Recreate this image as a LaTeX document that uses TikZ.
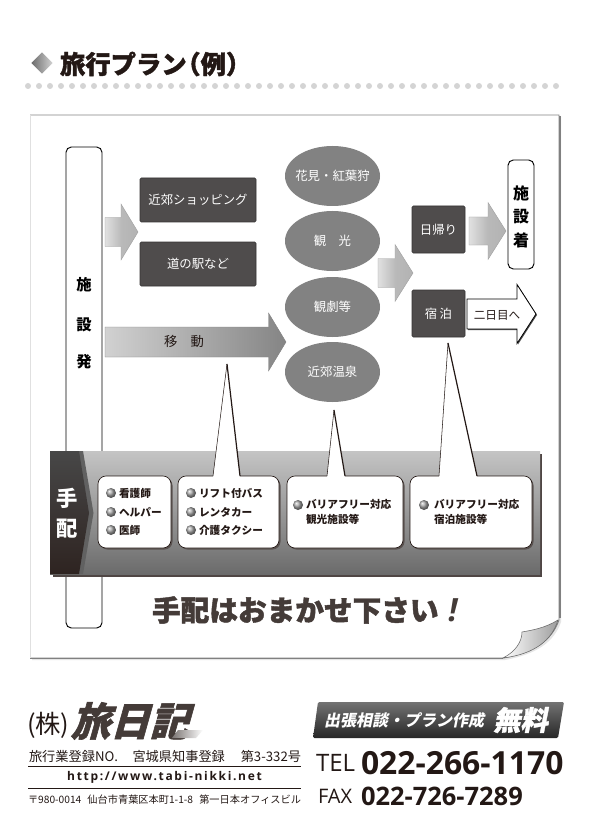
\documentclass[tikz,border=0pt]{standalone}
\usepackage{fontspec}
\usetikzlibrary{shapes.geometric}
\setmainfont{Noto Sans CJK JP}
\newfontfamily\jp{Noto Sans CJK JP}
\newfontfamily\jpx{Noto Sans CJK JP}[BoldFeatures={FakeBold=1.5}]
\newfontfamily\lat{Open Sans}
\newfontfamily\urlf{Open Sans}[LetterSpace=14]
\newcommand{\fs}[1]{\fontsize{#1}{#1}\selectfont}
\definecolor{ink}{HTML}{231815}
\definecolor{boxdark}{HTML}{4F4C4C}
\definecolor{ovalgray}{HTML}{828282}
\tikzset{
  txt/.style={inner sep=0pt,outer sep=0pt,text=ink,font=\jp\bfseries\fs{8}},
  whitetxt/.style={inner sep=0pt,text=white,font=\jp\fs{9.3}},
  darkbox/.style={fill=boxdark,rounded corners=1pt,draw=boxdark!70!black,line width=.4pt},
  oval/.style={ellipse,fill=ovalgray,inner xsep=-12pt,inner ysep=-6pt,minimum width=71.25pt,minimum height=45pt,text=white,font=\jp\fs{9.3}},
  pill/.style={draw=black,fill=white,line width=.7pt,rounded corners=4pt},
  card/.style={draw=ink,fill=white,line width=.5pt,rounded corners=6pt},
  cardshadow/.style={fill=ink!75,rounded corners=6pt},
  garrow/.style={left color=#1,right color=gray!60,middle color=gray!55,draw=gray!75,line width=.3pt},
  bul/.style={circle,inner sep=0pt,minimum size=7.5pt,ball color=gray!70,draw=none},
  vtxt/.style={inner sep=0pt,text=black,font=\jp\bfseries},
  tailthin/.style={draw=ink,line width=.4pt},
  tailthick/.style={draw=ink,line width=.9pt},
}
\newcommand{\blockarrow}[7][]{% style; x1 x2 xhead yc halfshaft halfhead
  \path[#1] (#2,#5-#6) -- (#4,#5-#6) -- (#4,#5-#7) -- (#3,#5) -- (#4,#5+#7) -- (#4,#5+#6) -- (#2,#5+#6) -- cycle;}
\begin{document}
\begin{tikzpicture}[x=0.75pt,y=-0.75pt]
\useasboundingbox (0,0) rectangle (590,834);
\fill[white] (0,0) rectangle (590,834);

% title
\node[diamond,aspect=1,minimum size=16pt,inner sep=0pt,left color=gray!85!black,right color=gray!35] (mark) at (42,63) {};
\node[txt,anchor=west,font=\jpx\bfseries\fs{19}] (title) at (60,64) {旅行プラン\hspace{-.45em}（例）};
\foreach \i in {0,...,48} \fill[black!17] (28+\i*11,86) circle (3);

% sheet
\draw[fill=black!10,draw=none]
  (32,117) -- (561,117) -- (561,622) .. controls (554,642) and (537,654) .. (505,660) -- (32,660) -- cycle;
\draw[fill=white,draw=black!48,line width=.7pt]
  (30,115) -- (559,115) -- (559,620) .. controls (552,640) and (535,652) .. (503,658) -- (30,658);
\draw[black!12,line width=.7pt] (30,115) -- (30,658);
\draw[black!50,line width=1pt] (560,116) -- (560,618);
\draw[black!50,line width=1pt] (30,658.5) -- (503,658.5);
\draw[left color=white,right color=black!38,draw=black!60,line width=.4pt]
  (558,620) .. controls (545,628) and (533,630) .. (522,632)
  .. controls (522,642) and (515,652) .. (503,658)
  .. controls (535,654) and (552,640) .. (558,620) -- cycle;

% left pill
\draw[pill] (66,147) rectangle (102,628);
\node[vtxt,font=\jp\bfseries\fs{11.5}] (d1) at (84,285) {施};
\node[vtxt,font=\jp\bfseries\fs{11.5}] (d2) at (84,325) {設};
\node[vtxt,font=\jp\bfseries\fs{11.5}] (d3) at (84,362) {発};

% first stage
\node[darkbox,minimum width=87pt,minimum height=33pt,inner sep=0pt,whitetxt] (shop) at (198,200) {近郊ショッピング};
\node[darkbox,minimum width=87pt,minimum height=33pt,inner sep=0pt,whitetxt] (michi) at (198,264) {道の駅など};
\blockarrow[garrow=black!12]{105}{138}{121}{232}{14.5}{28}
\blockarrow[left color=black!18,right color=black!48,draw=black!50,line width=.3pt]{105}{286}{268.5}{342}{15}{29}
\node[txt,font=\jp\fs{10}] (move) at (184,341) {移\hspace{1em}動};

% ovals
\node[oval] (o1) at (332.5,176) {花見・紅葉狩};
\node[oval] (o2) at (332.5,241) {観\hspace{1em}光};
\node[oval] (o3) at (332.5,307) {観劇等};
\node[oval] (o4) at (332.5,372) {近郊温泉};
\blockarrow[garrow=black!12]{378}{413}{395}{273}{14.5}{28.5}

% day / stay
\node[darkbox,minimum width=39.75pt,minimum height=35.25pt,inner sep=0pt,whitetxt] (day) at (438.5,229.5) {日帰り};
\node[darkbox,minimum width=39.75pt,minimum height=35.25pt,inner sep=0pt,whitetxt] (stay) at (438.5,313.5) {宿\hspace{.2em}泊};
\blockarrow[garrow=black!12]{469}{506}{488}{231}{14}{28.5}
\draw[pill] (508,160) rectangle (534,269);
\node[vtxt,font=\jp\bfseries\fs{12}] (a1) at (521,193) {施};
\node[vtxt,font=\jp\bfseries\fs{12}] (a2) at (521,217) {設};
\node[vtxt,font=\jp\bfseries\fs{12}] (a3) at (521,240) {着};
\blockarrow[fill=black!70]{468}{537}{518}{315}{15}{29.5}
\blockarrow[draw=black,fill=white,line width=.6pt]{467}{536}{517}{314}{15}{29.5}
\node[txt,font=\jp\fs{8.7}] (next) at (497,315) {二日目へ};

% band
\fill[ink!80] (53,454) rectangle (542,576.5);
\shade[top color=black!23,bottom color=black!58] (50,451) rectangle (540,574);
\fill[black!62] (79,451) -- (83,451) -- (93.5,513) -- (83,574) -- (79,574) -- cycle;
\shade[top color=black!72,bottom color=ink!95] (50,451) -- (79,451) -- (89,513) -- (79,574) -- (50,574) -- cycle;
\node[text=white,inner sep=0pt,font=\jp\bfseries\fs{16}] (te) at (67,498) {手};
\node[text=white,inner sep=0pt,font=\jp\bfseries\fs{16}] (hai) at (67,529) {配};

% cards
\fill[cardshadow] (99.5,477.5) rectangle (172.5,549.5);
\fill[cardshadow] (179.5,477.5) rectangle (280.5,549.5);
\fill[cardshadow] (288.5,477.5) rectangle (404.5,549.5);
\fill[cardshadow] (411.5,477.5) rectangle (533.5,549.5);
\draw[card] (98,476) rectangle (171,548);
\draw[card] (178,476) rectangle (279,548);
\draw[card] (287,476) rectangle (403,548);
\draw[card] (410,476) rectangle (532,548);
% tails
\coordinate (t2) at (227,364);
\coordinate (t3) at (334,410);
\coordinate (t4) at (448,343);
\fill[white] (213,476.8) -- (t2) -- (240,476.8) -- cycle;
\fill[white] (327,476.8) -- (t3) -- (345,476.8) -- cycle;
\fill[white] (439,476.8) -- (t4) -- (477,476.8) -- cycle;
\draw[tailthin] (213,476) -- (t2);
\draw[tailthick] (t2) -- (240,476);
\draw[tailthin] (327,476) -- (t3);
\draw[tailthick] (t3) -- (345,476);
\draw[tailthin] (439,476) -- (t4);
\draw[tailthick] (t4) -- (477,476);

\foreach \nm/\x/\y/\tx in {b1/111/493/看護師,b2/111/512/ヘルパー,b3/111/530/医師,b4/191/493/リフト付バス,b5/191/512/レンタカー,b6/191/530/介護タクシー}{
  \node[bul] (\nm) at (\x,\y) {};
  \node[txt,anchor=west] (\nm t) at (\x+8,\y) {\tx};
}
\node[bul] (b7) at (298,505) {};
\node[txt,anchor=north west,align=left] (b7t) at (306,499) {バリアフリー対応\\[3.2pt]観光施設等};
\node[bul] (b8) at (424,505) {};
\node[txt,anchor=north west,align=left] (b8t) at (434,499) {バリアフリー対応\\[3.2pt]宿泊施設等};

% slogan
\node[txt,font=\jpx\bfseries\fs{21.5},text=ink!85,anchor=west] (slogan) at (152,610) {手配はおまかせ下さい};
\node[txt,font=\lat\bfseries\itshape\fs{24},text=ink!85] (bang) at (453,610) {!};

% footer left
\node[txt,anchor=west,font=\jp\fs{19}] (kabu) at (27,725) {(株)};
\node[txt,anchor=west,font=\jpx\bfseries\fs{29.5},xslant=.28,transform shape,text=ink!85] (logo) at (75,721) {旅日記};
\shade[left color=ink!60,right color=white] (172,738) -- (178,730) -- (203,730) -- (196,738) -- cycle;
\node[txt,anchor=west,font=\jp\fs{9.9}] (reg) at (29,756) {旅行業登録NO.\hspace{1.1em}宮城県知事登録\hspace{1.2em}第3-332号};
\draw[ink,line width=.5pt] (28,766) -- (301,766);
\node[txt,font=\urlf\bfseries\fs{9}] (url) at (164.5,777) {http://www.tabi-nikki.net};
\draw[ink,line width=.5pt] (28,788) -- (301,788);
\node[txt,anchor=west,font=\jp\fs{7.65}] (addr) at (28,800) {〒980-0014\hspace{.6em}仙台市青葉区本町1-1-8\hspace{.6em}第一日本オフィスビル};

% footer right
\shade[top color=black!55,bottom color=black!85,rounded corners=1pt] (318,702) -- (564,702) -- (558,738) -- (313,738) -- cycle;
\node[text=white,inner sep=0pt,anchor=west,font=\jp\bfseries\fs{12},xslant=.2,transform shape] (cons) at (325,720) {出張相談・プラン作成};
\node[text=white,inner sep=0pt,anchor=west,font=\jpx\bfseries\fs{20.5},xslant=.2,transform shape] (free) at (495,720) {無料};
\node[txt,anchor=west,font=\lat\fs{18}] (tel) at (316,763) {TEL};
\node[txt,anchor=west,font=\lat\bfseries\fs{23.9}] (telno) at (361,763) {022-266-1170};
\node[txt,anchor=west,font=\lat\fs{15}] (fax) at (318,796) {FAX};
\node[txt,anchor=west,font=\lat\bfseries\fs{19.1}] (faxno) at (361,796) {022-726-7289};
\end{tikzpicture}
\end{document}
